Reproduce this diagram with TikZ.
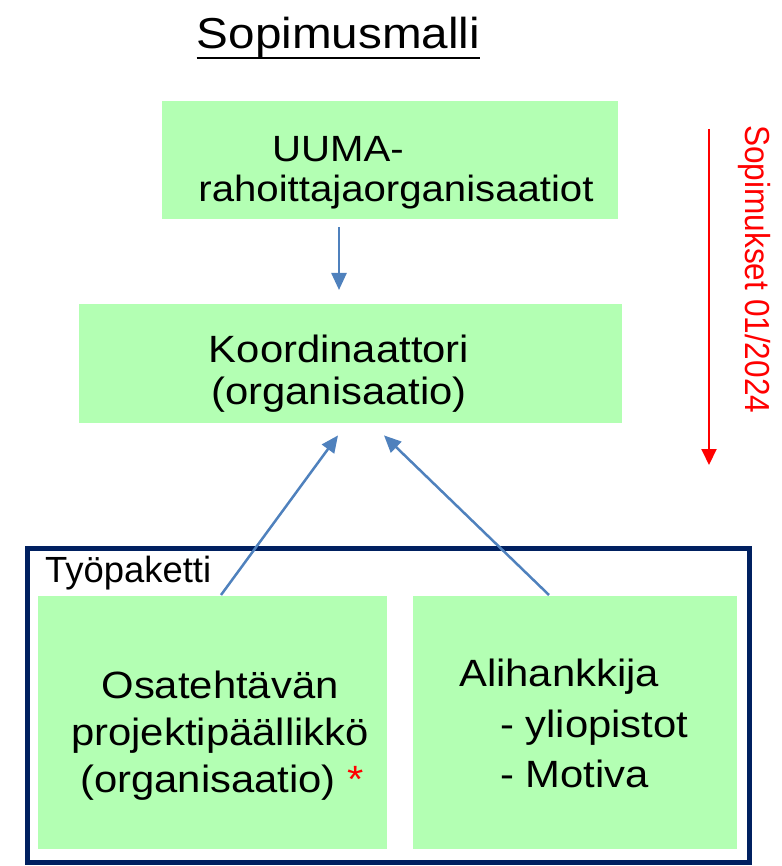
\documentclass[tikz,border=0pt]{standalone}
\usepackage{fontspec}
\setmainfont{Liberation Sans}[FakeStretch=1.1]
\newfontfamily\plainfont{Liberation Sans}
\usetikzlibrary{arrows.meta,calc}
\definecolor{boxgreen}{HTML}{B3FFB3}
\definecolor{navy}{HTML}{002060}
\definecolor{arrblue}{HTML}{4F81BD}
\begin{document}
\begin{tikzpicture}[x=1pt,y=-1pt,
  gbox/.style={fill=boxgreen,draw=none,inner sep=0pt,anchor=north west},
  ttxt/.style={inner sep=0pt,font=\fontsize{36.5}{40}\selectfont},
  btxt/.style={inner sep=0pt,font=\fontsize{38}{46}\selectfont},
  barrow/.style={draw=arrblue,line width=2.5pt,-{Triangle[width=15pt,length=17pt]}},
  rarrow/.style={draw=red,line width=2pt,-{Triangle[width=15pt,length=16pt]}}]
\useasboundingbox (0,0) rectangle (781,866);
% title
\node[inner sep=0pt,anchor=base,font=\fontsize{43.3}{48}\selectfont] (title) at (338.5,49) {Sopimusmalli};
\draw[line width=2.8pt] ([yshift=-9pt]title.base west) -- ([yshift=-9pt]title.base east);
% boxes
\node[gbox,minimum width=456pt,minimum height=118pt] (b1) at (162,101) {};
\node[gbox,minimum width=543pt,minimum height=119pt] (b2) at (79,304) {};
\node[draw=navy,line width=4.5pt,inner sep=0pt,anchor=north west,minimum width=722pt,minimum height=314pt] (frame) at (25,546) {};
\node[gbox,minimum width=349pt,minimum height=253pt] (b3) at (38,596) {};
\node[gbox,minimum width=324pt,minimum height=253pt] (b4) at (413,596) {};
% texts
\node[ttxt,anchor=base west] (t1a) at (272,162) {UUMA-};
\node[ttxt,anchor=base] (t1b) at (396,202) {rahoittajaorganisaatiot};
\node[btxt,anchor=base] (t2a) at (339,362) {Koordinaattori};
\node[btxt,anchor=base] (t2b) at (339,404) {(organisaatio)};
\node[inner sep=0pt,anchor=base west,font=\plainfont\fontsize{36.4}{40}\selectfont] (wp) at (45,582) {Työpaketti};
\node[btxt,anchor=base] (t3a) at (220,698) {Osatehtävän};
\node[btxt,anchor=base] (t3b) at (220,745) {projektipäällikkö};
\node[btxt,anchor=base west] (t3c) at (80,792) {(organisaatio) \textcolor{red}{*}};
\node[btxt,anchor=base west] (t4a) at (459,686) {Alihankkija};
\node[btxt,anchor=base west] (t4b) at (500,737) {- yliopistot};
\node[btxt,anchor=base west] (t4c) at (500,787) {- Motiva};
% connectors
\draw[barrow] ([xshift=177pt,yshift=-8pt]b1.south west) -- ([xshift=260pt,yshift=14pt]b2.north west);
\draw[barrow] ([xshift=183pt,yshift=1pt]b3.north west) -- ([xshift=259pt,yshift=-12pt]b2.south west);
\draw[barrow] ([xshift=136pt,yshift=1pt]b4.north west) -- ([xshift=305pt,yshift=-12pt]b2.south west);
% red timeline
\coordinate (rs) at (709,129);
\coordinate (re) at (709,465);
\draw[rarrow] (rs) -- (re);
\node[inner sep=0pt,anchor=base west,rotate=-90,text=red,font=\plainfont\fontsize{31.6}{36}\selectfont] (rt) at (745,125) {\scalebox{1}[1.1]{Sopimukset 01/2024}};
\end{tikzpicture}
\end{document}
